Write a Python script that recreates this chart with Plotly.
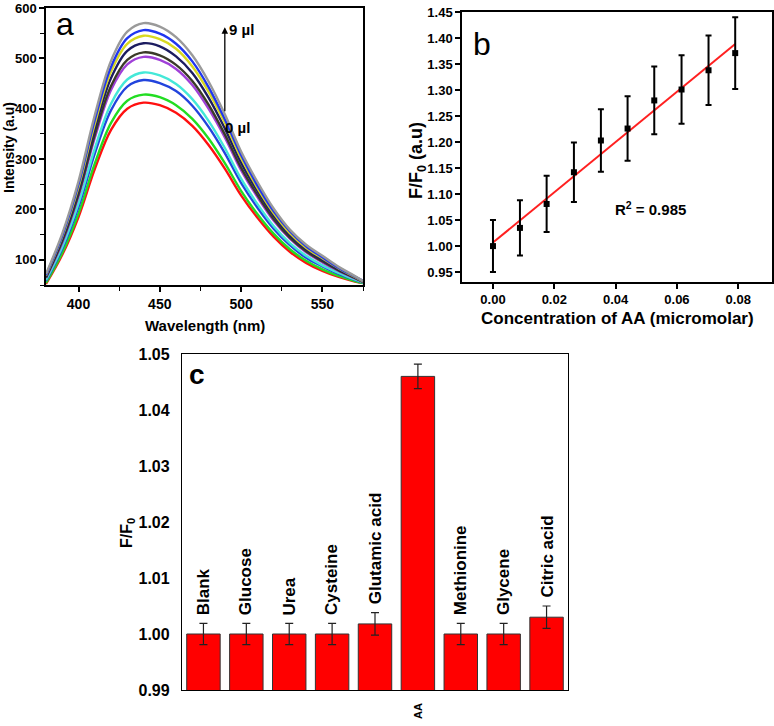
import plotly.graph_objects as go
import numpy as np

W, H = 774, 726

# ---------------- Panel a data (emission spectra) ----------------
wavelength = [380, 390, 400, 410, 420, 430, 440, 450, 460, 470, 480,
              490, 500, 510, 520, 530, 540, 550, 560, 570, 575]
spec_0ul = [52, 110, 185, 280, 358, 400, 412, 407, 392, 366, 328, 281, 228, 184, 146, 116, 94, 78, 66, 57, 54]
spec_1ul = [54, 114, 192, 291, 372, 416, 428, 423, 407, 380, 341, 292, 237, 191, 152, 121, 98, 81, 68, 58, 54]
spec_2ul = [58, 122, 205, 311, 397, 444, 457, 451, 435, 406, 364, 312, 253, 204, 162, 129, 104, 87, 72, 60, 55]
spec_3ul = [60, 126, 212, 321, 410, 458, 472, 466, 449, 419, 376, 322, 261, 211, 167, 133, 108, 89, 74, 61, 55]
spec_4ul = [64, 134, 226, 342, 437, 488, 503, 497, 479, 447, 400, 343, 278, 225, 178, 142, 115, 95, 78, 63, 56]
spec_5ul = [65, 137, 230, 348, 445, 497, 512, 506, 487, 455, 408, 349, 283, 229, 181, 144, 117, 97, 79, 64, 56]
spec_6ul = [67, 142, 238, 360, 461, 515, 530, 524, 504, 471, 422, 361, 293, 237, 188, 149, 121, 100, 81, 65, 57]
spec_7ul = [69, 146, 245, 370, 474, 529, 545, 538, 519, 484, 434, 372, 302, 243, 193, 153, 124, 103, 83, 66, 57]
spec_8ul = [70, 148, 250, 378, 483, 540, 556, 549, 529, 494, 443, 379, 308, 248, 197, 157, 127, 105, 84, 67, 58]
spec_9ul = [72, 152, 256, 387, 495, 553, 570, 563, 542, 506, 454, 389, 315, 255, 202, 160, 130, 108, 86, 68, 58]
spectra = [spec_0ul, spec_1ul, spec_2ul, spec_3ul, spec_4ul,
           spec_5ul, spec_6ul, spec_7ul, spec_8ul, spec_9ul]
spec_colors = ["#FF1010", "#22DD22", "#2244DD", "#44E8D8", "#A040D8",
               "#3A3A28", "#1C1C60", "#D8D820", "#2036F0", "#9A9A9A"]

# ---------------- Panel b data ----------------
conc_AA = [0.0, 0.0088, 0.0175, 0.0264, 0.0352, 0.0439, 0.0526, 0.0615, 0.0703, 0.0790]
ratio_b = [1.000, 1.035, 1.081, 1.142, 1.203, 1.226, 1.280, 1.301, 1.338, 1.371]
err_b = [0.050, 0.053, 0.054, 0.057, 0.060, 0.062, 0.065, 0.066, 0.067, 0.069]

# ---------------- Panel c data ----------------
species = ["Blank", "Glucose", "Urea", "Cysteine", "Glutamic acid",
           "AA", "Methionine", "Glycene", "Citric acid"]
ratio_c = [1.000, 1.000, 1.000, 1.000, 1.0018, 1.046, 1.000, 1.000, 1.003]
err_c = [0.0019, 0.0019, 0.0019, 0.0019, 0.0020, 0.0022, 0.0019, 0.0019, 0.0020]
top_labels = ["Blank", "Glucose", "Urea", "Cysteine", "Glutamic acid",
              "", "Methionine", "Glycene", "Citric acid"]
bottom_labels = ["", "", "", "", "", "AA", "", "", ""]


def px(x):
    return x / W


def py(y):
    return 1 - y / H


FONT = "Liberation Sans"
BOLD = dict(family=FONT, weight="bold", color="black")

fig = go.Figure()

# panel a traces
for vals, col in zip(spectra, spec_colors):
    fig.add_trace(go.Scatter(x=wavelength, y=vals, mode="lines",
                             line=dict(color=col, width=2.4, shape="spline", smoothing=1.0),
                             xaxis="x", yaxis="y", showlegend=False,
                             hoverinfo="skip"))

# panel b traces
coef = np.polyfit(conc_AA, ratio_b, 1)
fit_x = [min(conc_AA), max(conc_AA)]
fit_y = [coef[0] * v + coef[1] for v in fit_x]
fig.add_trace(go.Scatter(x=fit_x, y=fit_y, mode="lines",
                         line=dict(color="#FF2020", width=2),
                         xaxis="x2", yaxis="y2", showlegend=False))
fig.add_trace(go.Scatter(x=conc_AA, y=ratio_b, mode="markers",
                         marker=dict(symbol="square", size=6, color="black"),
                         error_y=dict(type="data", array=err_b, color="black",
                                      thickness=2, width=3),
                         xaxis="x2", yaxis="y2", showlegend=False))

# panel c traces
fig.add_trace(go.Bar(x=species, y=ratio_c,
                     marker=dict(color="#FF0000", line=dict(color="#333333", width=1)),
                     error_y=dict(type="data", array=err_c, color="#222222",
                                  thickness=1.2, width=4),
                     xaxis="x3", yaxis="y3", showlegend=False))

axis_common = dict(showline=True, mirror=True, linecolor="black", linewidth=1.5,
                   showgrid=False, zeroline=False, ticks="outside", ticklen=5,
                   tickwidth=1.5, tickcolor="black", automargin=False,
                   ticklabeloverflow="allow")

fig.update_layout(
    width=W, height=H,
    margin=dict(l=0, r=0, t=0, b=0, autoexpand=False),
    paper_bgcolor="white", plot_bgcolor="white",
    font=dict(family=FONT, color="black"),
    bargap=0.22,
    xaxis=dict(domain=[px(46), px(363)], range=[380, 575], anchor="y",
               tickvals=[400, 450, 500, 550],
               minor=dict(dtick=25, tick0=0, ticks="outside", ticklen=4,
                          tickcolor="black", tickwidth=1.2),
               tickfont=dict(size=14, **BOLD), **axis_common),
    yaxis=dict(domain=[py(285), py(8)], range=[50, 600], anchor="x",
               tickvals=[100, 200, 300, 400, 500, 600],
               minor=dict(dtick=50, tick0=0, ticks="outside", ticklen=4,
                          tickcolor="black", tickwidth=1.2),
               tickfont=dict(size=13, **BOLD), **axis_common),
    xaxis2=dict(domain=[px(462), px(772)], range=[-0.0101, 0.091], anchor="y2",
                tickvals=[0.0, 0.02, 0.04, 0.06, 0.08], tickformat=".2f",
                tickfont=dict(size=13, **BOLD), **axis_common),
    yaxis2=dict(domain=[py(282), py(12)], range=[0.931, 1.45], anchor="x2",
                tick0=0.95, dtick=0.05, tickformat=".2f",
                tickfont=dict(size=13, **BOLD), **axis_common),
    xaxis3=dict(domain=[px(182), px(568)], anchor="y3", type="category",
                range=[-0.5, 8.5], showticklabels=False, automargin=False,
                showline=True, mirror=True, linecolor="black", linewidth=1.3,
                showgrid=False, zeroline=False, ticks=""),
    yaxis3=dict(domain=[py(690), py(354)], range=[0.99, 1.05], anchor="x3",
                tick0=0.99, dtick=0.01, tickformat=".2f", ticklabelstandoff=8,
                tickfont=dict(size=16, **BOLD), automargin=False,
                ticklabeloverflow="allow",
                showline=True, mirror=True, linecolor="black", linewidth=1.3,
                showgrid=False, zeroline=False, ticks=""),
)

ann = []
# axis titles
ann.append(dict(text="Intensity (a.u)", x=px(9), y=py(148), textangle=-90,
                font=dict(size=14, **BOLD)))
ann.append(dict(text="Wavelength (nm)", x=px(205), y=py(325),
                font=dict(size=15, **BOLD)))
ann.append(dict(text="F/F<sub>0</sub> (a.u)", x=px(418), y=py(161), textangle=-90,
                font=dict(size=18, **BOLD)))
ann.append(dict(text="Concentration of AA (micromolar)", x=px(617), y=py(318),
                font=dict(size=17, **BOLD)))
ann.append(dict(text="F/F<sub>0</sub>", x=px(127), y=py(533), textangle=-90,
                font=dict(size=16, **BOLD)))
# panel labels
ann.append(dict(text="a", x=px(65), y=py(24), font=dict(size=32, family=FONT, color="black")))
ann.append(dict(text="b", x=px(482), y=py(44), font=dict(size=32, family=FONT, color="black")))
ann.append(dict(text="c", x=px(197), y=py(374), font=dict(size=28, **BOLD)))
# R^2
ann.append(dict(text="R<sup>2</sup> = 0.985", x=px(650), y=py(209),
                font=dict(size=15, **BOLD)))
# micro litre labels
ann.append(dict(text="9 µl", x=px(227), y=py(29), xanchor="left",
                font=dict(size=15, **BOLD)))
ann.append(dict(text="0 µl", x=px(223), y=py(127), xanchor="left",
                font=dict(size=15, **BOLD)))
for a in ann:
    a.setdefault("xref", "paper")
    a.setdefault("yref", "paper")
    a.setdefault("showarrow", False)
    a.setdefault("xanchor", "center")
    a.setdefault("yanchor", "middle")

# arrow in panel a
ann.append(dict(x=490, y=562, ax=490, ay=392, xref="x", yref="y", axref="x", ayref="y",
                showarrow=True, arrowhead=2, arrowsize=1, arrowwidth=1.3,
                arrowcolor="black", text=""))

# rotated labels above bars and under the axis
for cat, v, e, lab, blab in zip(species, ratio_c, err_c, top_labels, bottom_labels):
    if lab:
        ann.append(dict(text=lab, x=cat, y=v + e, xref="x3", yref="y3",
                        textangle=-90, showarrow=False, xanchor="center",
                        yanchor="bottom", yshift=6,
                        font=dict(size=17, **BOLD)))
    if blab:
        ann.append(dict(text=blab, x=cat, y=py(701), xref="x3", yref="paper",
                        textangle=-90, showarrow=False, xanchor="center",
                        yanchor="top", font=dict(size=11, **BOLD)))

fig.update_layout(annotations=ann)
fig.write_html("out.html",
               config={"displayModeBar": False},
               post_script="document.body.style.margin='0';document.body.style.overflow='hidden';")
